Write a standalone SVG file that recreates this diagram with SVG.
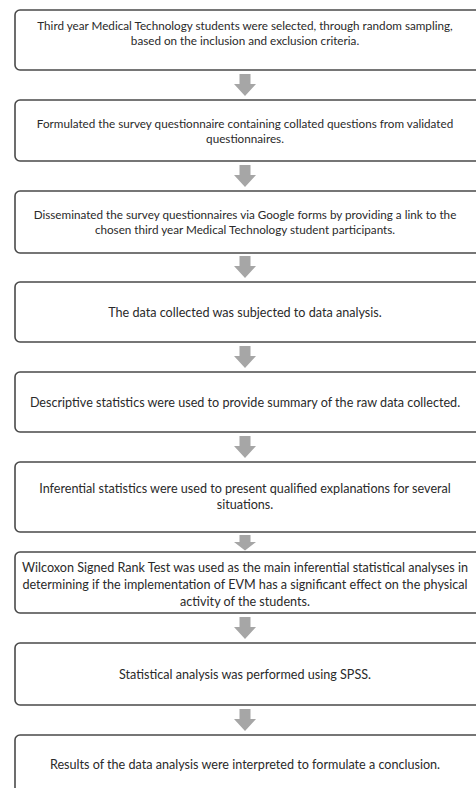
<svg xmlns="http://www.w3.org/2000/svg" xmlns:xlink="http://www.w3.org/1999/xlink" width="476" height="788" viewBox="0 0 476 788">
<style>
.box{fill:#ffffff;stroke:#4a4a4a;stroke-width:1.6}
.t{font-family:Lato,"Liberation Sans",sans-serif;font-size:11.7px;fill:#2a2a2a;text-anchor:middle}
.t2{font-size:12.6px}
.arr{fill:#a6a6a6}
</style>
<defs>
<path id="ar" d="M-5.5 0H5.5V10H11L0 22L-11 10H-5.5Z"/>
</defs>
<rect width="476" height="788" fill="#ffffff"/>
<g id="connectors" class="arr">
<use xlink:href="#ar" transform="translate(245,74)"/>
<use xlink:href="#ar" transform="translate(245,165)"/>
<use xlink:href="#ar" transform="translate(245,256)"/>
<use xlink:href="#ar" transform="translate(245,346)"/>
<use xlink:href="#ar" transform="translate(245,436)"/>
<use xlink:href="#ar" transform="translate(245,535) scale(1,0.7)"/>
<use xlink:href="#ar" transform="translate(245,617)"/>
<use xlink:href="#ar" transform="translate(245,709)"/>
</g>
<g id="n1"><rect class="box" x="15" y="10" width="466" height="60" rx="5"/>
<text class="t" x="245" y="29.5">Third year Medical Technology students were selected, through random sampling,</text>
<text class="t" x="245" y="45">based on the inclusion and exclusion criteria.</text></g>
<g id="n2"><rect class="box" x="15" y="100" width="466" height="61" rx="5"/>
<text class="t" x="245" y="127.5">Formulated the survey questionnaire containing collated questions from validated</text>
<text class="t" x="245" y="142.5">questionnaires.</text></g>
<g id="n3"><rect class="box" x="15" y="191" width="466" height="62" rx="5"/>
<text class="t" x="245" y="218.5">Disseminated the survey questionnaires via Google forms by providing a link to the</text>
<text class="t" x="245" y="233.5">chosen third year Medical Technology student participants.</text></g>
<g id="n4"><rect class="box" x="15" y="282" width="466" height="60" rx="5"/>
<text class="t t2" x="245" y="316.5">The data collected was subjected to data analysis.</text></g>
<g id="n5"><rect class="box" x="15" y="372" width="466" height="60" rx="5"/>
<text class="t t2" x="245" y="407">Descriptive statistics were used to provide summary of the raw data collected.</text></g>
<g id="n6"><rect class="box" x="15" y="462" width="466" height="70" rx="5"/>
<text class="t t2" x="245" y="493">Inferential statistics were used to present qualified explanations for several</text>
<text class="t t2" x="245" y="509">situations.</text></g>
<g id="n7"><rect class="box" x="15" y="552" width="466" height="61" rx="5"/>
<text class="t t2" x="245" y="572">Wilcoxon Signed Rank Test was used as the main inferential statistical analyses in</text>
<text class="t t2" x="245" y="589">determining if the implementation of EVM has a significant effect on the physical</text>
<text class="t t2" x="245" y="606">activity of the students.</text></g>
<g id="n8"><rect class="box" x="15" y="643" width="466" height="62" rx="5"/>
<text class="t t2" x="245" y="679">Statistical analysis was performed using SPSS.</text></g>
<g id="n9"><rect class="box" x="15" y="735" width="466" height="70" rx="5"/>
<text class="t t2" x="245" y="769">Results of the data analysis were interpreted to formulate a conclusion.</text></g>
</svg>
